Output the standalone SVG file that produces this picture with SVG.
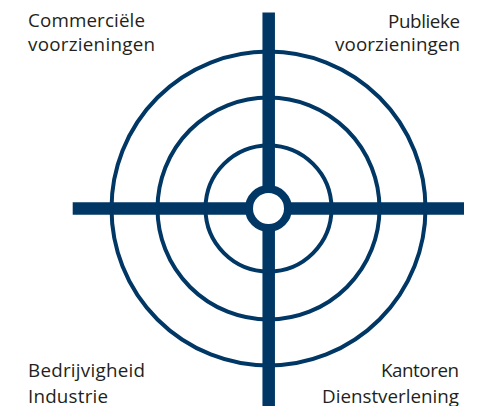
<svg xmlns="http://www.w3.org/2000/svg" width="484" height="406" viewBox="0 0 484 406">
<style>
.ring{fill:none;stroke:#003764;stroke-width:4}
.bar{stroke:#003764;stroke-width:12.5;fill:none}
.lbl{font-family:"Open Sans","Liberation Sans",sans-serif;font-size:18.8px;fill:#231f20}
</style>
<rect width="484" height="406" fill="#fff"/>
<g id="connectors">
<line class="bar" x1="268.7" y1="12.5" x2="268.7" y2="406"/>
<line class="bar" x1="72.7" y1="208.5" x2="464" y2="208.5"/>
</g>
<g id="rings">
<circle class="ring" cx="268.5" cy="208.5" r="157"/>
<circle class="ring" cx="268.5" cy="208.5" r="111"/>
<circle class="ring" cx="268.5" cy="208.5" r="63"/>
</g>
<g id="center">
<circle cx="268.5" cy="208.5" r="19.5" fill="#fff" stroke="#003764" stroke-width="8"/>
</g>
<g id="commercieel">
<text class="lbl" x="28" y="27" textLength="117">Commerciële</text>
<text class="lbl" x="28" y="51" textLength="127">voorzieningen</text>
</g>
<g id="publiek">
<text class="lbl" x="460" y="28" text-anchor="end" textLength="72">Publieke</text>
<text class="lbl" x="460" y="51" text-anchor="end" textLength="125">voorzieningen</text>
</g>
<g id="bedrijvigheid">
<text class="lbl" x="28" y="377" textLength="117">Bedrijvigheid</text>
<text class="lbl" x="28" y="402.5" textLength="80">Industrie</text>
</g>
<g id="kantoren">
<text class="lbl" x="459" y="377" text-anchor="end" textLength="78">Kantoren</text>
<text class="lbl" x="459" y="402.5" text-anchor="end" textLength="137">Dienstverlening</text>
</g>
</svg>
